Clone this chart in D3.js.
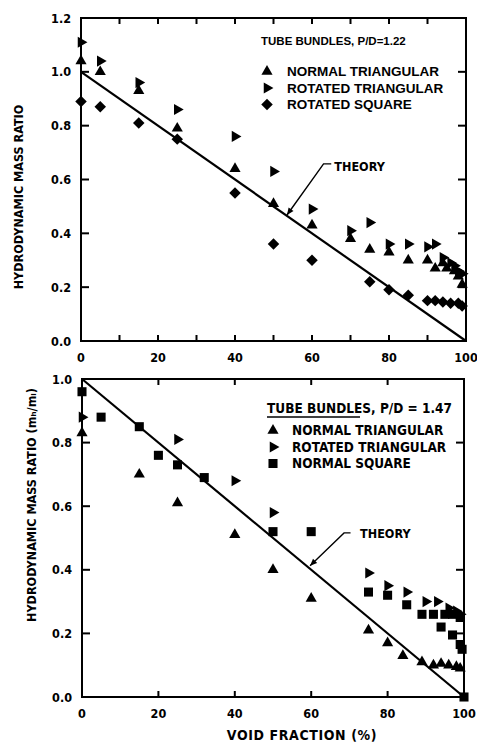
<!DOCTYPE html>
<html lang="en">
<head>
    <title>Hydrodynamic mass ratio vs void fraction</title>
    <style>
        body { margin: 0; background: #fff; }
        text { font-family: "DejaVu Sans Condensed", "Liberation Sans Narrow", sans-serif; font-weight: bold; fill: #000; }
        .legend-a text { font-family: "Liberation Sans Narrow", "Liberation Sans", sans-serif; }
        .frame { fill: none; stroke: #000; stroke-width: 2; }
        .tick { stroke: #000; stroke-width: 2; }
        .theory { stroke: #000; stroke-width: 2.2; }
        .leader { fill: none; stroke: #000; stroke-width: 1.4; }
    </style>
    <!-- load the d3.js library -->
    <script src="https://d3js.org/d3.v7.min.js"></script>
</head>
<body>
    <svg></svg>
    <script>
        // ---- data: [void fraction %, mass ratio] ----
        // upper panel, P/D = 1.22
        var topNormalTri = [[0,1.04],[5,1.00],[15,0.93],[25,0.79],[40,0.64],[50,0.51],[60,0.43],[70,0.38],[75,0.34],[80,0.33],[85,0.30],[90,0.30],[92,0.27],[94,0.29],[95,0.27],[97,0.26],[98,0.24],[99,0.21]];
        var topRotatedTri = [[0,1.11],[5,1.04],[15,0.96],[25,0.86],[40,0.76],[50,0.63],[60,0.49],[70,0.41],[75,0.44],[80,0.36],[85,0.36],[90,0.35],[92,0.36],[94,0.31],[96,0.29],[97,0.28],[98,0.26],[99,0.25]];
        var topRotatedSq = [[0,0.89],[5,0.87],[15,0.81],[25,0.75],[40,0.55],[50,0.36],[60,0.30],[75,0.22],[80,0.19],[85,0.17],[90,0.15],[92,0.15],[94,0.145],[96,0.14],[98,0.14],[99,0.13]];
        // lower panel, P/D = 1.47
        var botNormalTri = [[0,0.83],[15,0.70],[25,0.61],[40,0.51],[50,0.40],[60,0.31],[75,0.21],[80,0.17],[84,0.13],[89,0.11],[92,0.10],[94,0.105],[96,0.10],[98,0.095],[99,0.09]];
        var botRotatedTri = [[0,0.88],[25,0.81],[40,0.68],[50,0.58],[75,0.39],[80,0.35],[85,0.33],[90,0.30],[93,0.30],[96,0.28],[98,0.27],[99,0.26]];
        var botNormalSq = [[0,0.96],[5,0.88],[15,0.85],[20,0.76],[25,0.73],[32,0.69],[50,0.52],[60,0.52],[75,0.33],[80,0.32],[85,0.29],[89,0.26],[92,0.26],[95,0.26],[97,0.26],[99,0.25],[94,0.22],[97,0.195],[99,0.165],[99.5,0.15],[100,0.0]];
        // theory: linear from 1 at 0 % to 0 at 100 %
        var theory = [[0,1.0],[100,0.0]];

        var topYTicks = [0.0,0.2,0.4,0.6,0.8,1.0,1.2];
        var botYTicks = [0.0,0.2,0.4,0.6,0.8,1.0];
        var xLabels = [0,20,40,60,80,100];
        var topXMinor = [10,20,30,40,50,60,70,80,90];
        var botXMinor = [20,40,60,80];

        var svg = d3.select("svg")
            .attr("width", 477)
            .attr("height", 744);

        // symbol shapes
        var triPath = d3.symbol().type(d3.symbolTriangle).size(54)();
        var sqPath = d3.symbol().type(d3.symbolSquare).size(82)();
        var diaPath = d3.symbol().type(d3.symbolSquare).size(66)();
        var shapes = {
            tri: function(sel) { sel.attr("d", triPath); },
            rot: function(sel) { sel.attr("d", triPath).attr("data-rot", 90); },
            sq: function(sel) { sel.attr("d", sqPath); },
            dia: function(sel) { sel.attr("d", diaPath).attr("data-rot", 45); }
        };

        function drawPanel(o) {
            var x = d3.scaleLinear().domain([0, 100]).range(o.xr);
            var y = d3.scaleLinear().domain(o.yd).range(o.yr);
            var g = svg.append("g");

            // frame
            g.append("rect").attr("class", "frame")
                .attr("x", x(0)).attr("y", y(o.yd[1]))
                .attr("width", x(100) - x(0)).attr("height", y(0) - y(o.yd[1]));

            // inward ticks on all four sides
            g.selectAll(".xb").data(o.xMinor).enter().append("line").attr("class", "tick")
                .attr("x1", d => x(d)).attr("x2", d => x(d))
                .attr("y1", y(0)).attr("y2", y(0) - 6);
            g.selectAll(".xt").data(o.xMinor).enter().append("line").attr("class", "tick")
                .attr("x1", d => x(d)).attr("x2", d => x(d))
                .attr("y1", y(o.yd[1])).attr("y2", y(o.yd[1]) + 6);
            var inner = o.yTicks.filter(d => d > 0 && d < o.yd[1]);
            g.selectAll(".yl").data(inner).enter().append("line").attr("class", "tick")
                .attr("x1", x(0)).attr("x2", x(0) + 8)
                .attr("y1", d => y(d)).attr("y2", d => y(d));
            g.selectAll(".yr").data(inner).enter().append("line").attr("class", "tick")
                .attr("x1", x(100)).attr("x2", x(100) - 8)
                .attr("y1", d => y(d)).attr("y2", d => y(d));

            // tick labels
            g.selectAll(".xlab").data(xLabels).enter().append("text")
                .attr("x", d => x(d)).attr("y", y(0) + 21)
                .attr("text-anchor", "middle").style("font-size", "12.5px")
                .text(d => d);
            g.selectAll(".ylab").data(o.yTicks).enter().append("text")
                .attr("x", x(0) - 10).attr("y", d => y(d) + 4.5)
                .attr("text-anchor", "end").style("font-size", "12.5px")
                .text(d => d.toFixed(1));

            // theory line
            var line = d3.line().x(d => x(d[0])).y(d => y(d[1]));
            g.append("path").attr("class", "theory").attr("d", line(theory));

            // data
            o.series.forEach(function(s) {
                g.selectAll(null).data(s.data).enter().append("path")
                    .call(shapes[s.shape])
                    .attr("transform", function(d) {
                        var r = d3.select(this).attr("data-rot") || 0;
                        return "translate(" + x(d[0]) + "," + y(d[1]) + ") rotate(" + r + ")";
                    });
            });

            // theory leader
            g.append("path").attr("class", "leader").attr("d", line(o.leader));
            var e = o.leader[o.leader.length - 1], p = o.leader[o.leader.length - 2];
            var ang = Math.atan2(y(e[1]) - y(p[1]), x(e[0]) - x(p[0])) * 180 / Math.PI;
            g.append("path").attr("d", "M0,0L-7,-3L-7,3Z")
                .attr("transform", "translate(" + x(e[0]) + "," + y(e[1]) + ") rotate(" + ang + ")");
            g.append("text").attr("x", x(o.theoryAt[0])).attr("y", y(o.theoryAt[1]))
                .style("font-size", "12.5px").text("THEORY");

            // legend
            var lg = g.append("g").attr("class", o.legendClass);
            lg.append("text").attr("x", o.legend.x).attr("y", o.legend.y)
                .style("font-size", o.legend.titleSize).text(o.legend.title);
            if (o.legend.underline) {
                lg.append("line").attr("x1", o.legend.x).attr("x2", o.legend.x + o.legend.underline)
                    .attr("y1", o.legend.y + 4).attr("y2", o.legend.y + 4)
                    .attr("stroke", "#000").attr("stroke-width", 1.5);
            }
            o.series.forEach(function(s, i) {
                var ly = o.legend.y0 + i * o.legend.dy;
                lg.append("path").call(shapes[s.shape])
                    .attr("transform", function() {
                        var r = d3.select(this).attr("data-rot") || 0;
                        return "translate(" + o.legend.mx + "," + (ly - 4.5) + ") rotate(" + r + ")";
                    });
                lg.append("text").attr("x", o.legend.tx).attr("y", ly)
                    .style("font-size", o.legend.itemSize).text(s.name);
            });

            // y title
            svg.append("text")
                .attr("transform", "translate(" + o.yTitleAt[0] + "," + o.yTitleAt[1] + ") rotate(-90)")
                .attr("text-anchor", "middle").style("font-size", "12.5px")
                .text(o.yTitle);
            return { x: x, y: y };
        }

        drawPanel({
            xr: [81, 466], yd: [0, 1.2], yr: [341, 18],
            yTicks: topYTicks, xMinor: topXMinor,
            series: [
                { name: "NORMAL TRIANGULAR", shape: "tri", data: topNormalTri },
                { name: "ROTATED TRIANGULAR", shape: "rot", data: topRotatedTri },
                { name: "ROTATED SQUARE", shape: "dia", data: topRotatedSq }
            ],
            leader: [[65, 0.658], [63, 0.658], [53.5, 0.468]],
            theoryAt: [65.8, 0.633],
            legendClass: "legend-a",
            legend: { x: 261, y: 45, title: "TUBE BUNDLES, P/D=1.22", titleSize: "11.5px",
                      mx: 267, tx: 287, y0: 76, dy: 16.5, itemSize: "13.5px" },
            yTitle: "HYDRODYNAMIC MASS RATIO", yTitleAt: [23, 197]
        });

        drawPanel({
            xr: [82, 464], yd: [0, 1.0], yr: [697, 379],
            yTicks: botYTicks, xMinor: botXMinor,
            series: [
                { name: "NORMAL TRIANGULAR", shape: "tri", data: botNormalTri },
                { name: "ROTATED TRIANGULAR", shape: "rot", data: botRotatedTri },
                { name: "NORMAL SQUARE", shape: "sq", data: botNormalSq }
            ],
            leader: [[70.3, 0.516], [68.6, 0.516], [59.7, 0.413]],
            theoryAt: [72.8, 0.50],
            legendClass: "legend-b",
            legend: { x: 267, y: 413, title: "TUBE BUNDLES, P/D = 1.47", titleSize: "13.5px", underline: 93,
                      mx: 273, tx: 292, y0: 435, dy: 16.5, itemSize: "13.5px" },
            yTitle: "HYDRODYNAMIC MASS RATIO (m\u2095/m\u2097)", yTitleAt: [36, 505]
        });

        // shared x title
        svg.append("text").attr("x", 302).attr("y", 740)
            .attr("text-anchor", "middle").style("font-size", "14px")
            .style("letter-spacing", "0.6px")
            .text("VOID FRACTION (%)");
    </script>
</body>
</html>
